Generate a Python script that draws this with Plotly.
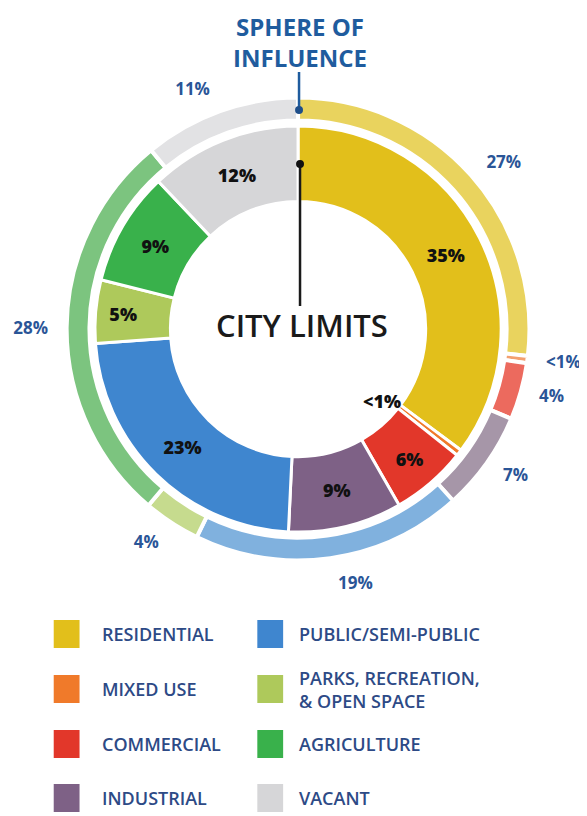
import plotly.graph_objects as go

W, H = 587, 816
OFF = 8  # page body margin of the exported html

categories = [
    "RESIDENTIAL", "MIXED USE", "COMMERCIAL", "INDUSTRIAL",
    "PUBLIC/SEMI-PUBLIC", "PARKS, RECREATION,<br>& OPEN SPACE", "AGRICULTURE", "VACANT",
]
city_limits = [35, 0.5, 6, 9, 23, 5, 9, 12]
city_labels = ["35%", "", "6%", "9%", "23%", "5%", "9%", "12%"]
sphere = [27, 0.5, 4, 7, 19, 4, 28, 11]
sphere_labels = ["27%", "<1%", "4%", "7%", "19%", "4%", "28%", "11%"]

inner_colors = ["#E2BF1B", "#F07A2A", "#E2372A", "#7E6186",
                "#3F86CF", "#AEC95B", "#39B14B", "#D6D6D8"]
outer_colors = ["#E9D35E", "#F3A070", "#EC6A5E", "#A696A8",
                "#80B1DE", "#C6DB8E", "#7CC47F", "#E2E2E4"]

BLUE = "#2A5597"
NAVY = "#2D4A86"
FONT = "Open Sans"


def px_x(x):
    return (x - OFF) / W


def px_y(y):
    return 1 - (y - OFF) / H


def square_domain(r):
    return dict(x=[px_x(CX - r), px_x(CX + r)], y=[px_y(CY + r), px_y(CY - r)])


CX, CY = 296, 329
R_OUT, R_OUT_HOLE = 233, 210
R_LABEL = 246
R_IN, R_IN_HOLE = 204.5, 128.5

fig = go.Figure()

# outer ring: sphere of influence
fig.add_trace(go.Pie(
    values=sphere, labels=categories, textinfo="none",
    marker=dict(colors=outer_colors, line=dict(color="white", width=4)),
    hole=R_OUT_HOLE / R_OUT, sort=False, direction="clockwise", rotation=0,
    domain=square_domain(R_OUT), showlegend=False, hoverinfo="label+value",
))

# transparent ring a bit wider, only to carry the outside labels
fig.add_trace(go.Pie(
    values=sphere, labels=categories, text=sphere_labels,
    textinfo="text", textposition="outside",
    outsidetextfont=dict(family=FONT, size=17, color=BLUE, weight="bold"),
    marker=dict(colors=["rgba(0,0,0,0)"] * len(sphere), line=dict(width=0)),
    hole=0.98, sort=False, direction="clockwise", rotation=0,
    domain=square_domain(R_LABEL), showlegend=False, hoverinfo="skip",
))

# inner donut: city limits
fig.add_trace(go.Pie(
    values=city_limits, labels=categories, text=city_labels,
    textinfo="text", textposition="inside", insidetextorientation="horizontal",
    insidetextfont=dict(family=FONT, size=18, color="#111111", weight=800),
    marker=dict(colors=inner_colors, line=dict(color="white", width=3)),
    hole=R_IN_HOLE / R_IN, sort=False, direction="clockwise", rotation=0,
    domain=square_domain(R_IN), showlegend=False, hoverinfo="label+value",
))

shapes = [
    # pointer for sphere of influence
    dict(type="line", xref="paper", yref="paper",
         x0=px_x(297), x1=px_x(297), y0=px_y(72), y1=px_y(110),
         line=dict(color="#1F5C9E", width=2.5)),
    dict(type="circle", xref="paper", yref="paper",
         x0=px_x(293), x1=px_x(301), y0=px_y(114), y1=px_y(106),
         fillcolor="#1F4F8A", line=dict(width=0)),
    # pointer for city limits
    dict(type="line", xref="paper", yref="paper",
         x0=px_x(298), x1=px_x(298), y0=px_y(164), y1=px_y(306),
         line=dict(color="#1A1A1A", width=2.5)),
    dict(type="circle", xref="paper", yref="paper",
         x0=px_x(294), x1=px_x(302), y0=px_y(168), y1=px_y(160),
         fillcolor="#111111", line=dict(width=0)),
]

annotations = [
    dict(text="SPHERE OF<br>INFLUENCE", x=px_x(298), y=1.0,
         xref="paper", yref="paper", showarrow=False,
         xanchor="center", yanchor="top", align="center",
         font=dict(family=FONT, size=24, color="#1F5C9E", weight="bold")),
    dict(text="CITY LIMITS", x=px_x(300), y=px_y(325),
         xref="paper", yref="paper", showarrow=False,
         xanchor="center", yanchor="middle",
         font=dict(family=FONT, size=31, color="#1A1A1A", weight=600)),
    dict(text="<1%", x=px_x(381), y=px_y(401),
         xref="paper", yref="paper", showarrow=False,
         xanchor="center", yanchor="middle",
         font=dict(family=FONT, size=18, color="#111111", weight=800)),
]

# legend, two columns
rows_y = [634, 689, 744, 798]
for i, name in enumerate(categories):
    col, row = divmod(i, 4)
    sx, tx = (50, 97) if col == 0 else (255, 295)
    cy = rows_y[row]
    shapes.append(dict(
        type="rect", xref="paper", yref="paper",
        x0=px_x(sx), x1=px_x(sx + 26), y0=px_y(cy + 14), y1=px_y(cy - 14),
        fillcolor=inner_colors[i], line=dict(width=0),
    ))
    annotations.append(dict(
        text=name, x=px_x(tx), y=px_y(cy), xref="paper", yref="paper",
        xanchor="left", yanchor="middle", showarrow=False, align="left",
        font=dict(family=FONT, size=18, color=NAVY, weight=600),
    ))

fig.update_layout(
    width=W, height=H,
    margin=dict(l=0, r=0, t=0, b=0),
    paper_bgcolor="white", plot_bgcolor="white",
    shapes=shapes, annotations=annotations,
)

fig.write_html("out.html")
